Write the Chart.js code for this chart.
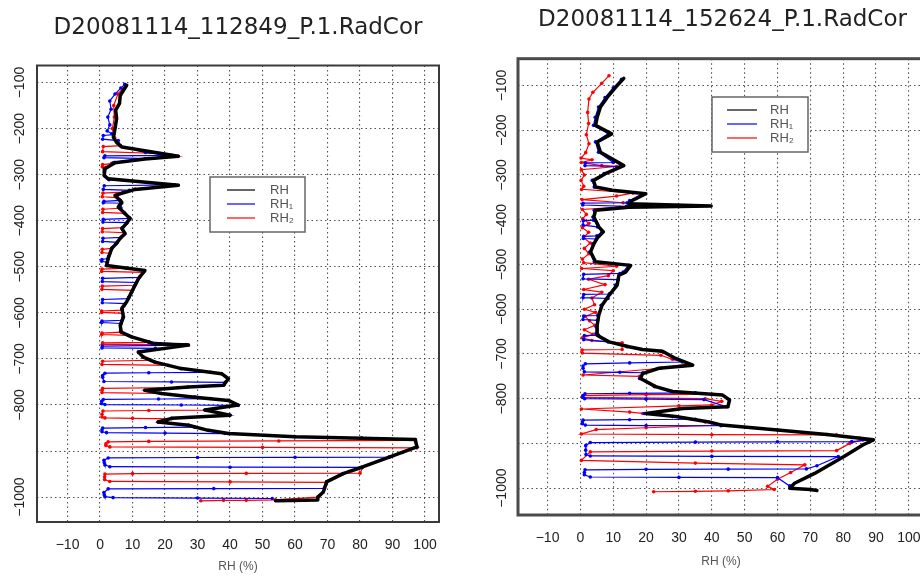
<!DOCTYPE html>
<html>
<head>
<meta charset="utf-8">
<title>RH profiles</title>
<script src="https://cdn.jsdelivr.net/npm/chart.js@4.4.0/dist/chart.umd.min.js"></script>
<style>
  html, body { margin: 0; padding: 0; background: #fff; }
  #wrap { position: relative; width: 920px; height: 576px; overflow: hidden; }
  .panel { position: absolute; top: 0; height: 576px; }
  #left { left: 0; width: 460px; }
  #right { left: 460px; width: 468px; }
</style>
</head>
<body>
<div id="wrap">
  <div class="panel" id="left"><canvas id="leftChart" width="460" height="576"></canvas></div>
  <div class="panel" id="right"><canvas id="rightChart" width="468" height="576"></canvas></div>
</div>
<script>
// ---- axis ticks ----
const rhTicks = [-10, 0, 10, 20, 30, 40, 50, 60, 70, 80, 90, 100];
const rhTickLabels = ['\u221210', '0', '10', '20', '30', '40', '50', '60', '70', '80', '90', '100'];
const presTicks = [-100, -200, -300, -400, -500, -600, -700, -800, -900, -1000];
const presTickLabels = ['\u2212100', '\u2212200', '\u2212300', '\u2212400', '\u2212500', '\u2212600', '\u2212700', '\u2212800', '', '\u22121000'];

const seriesLabels = ['RH', 'RH\u2081', 'RH\u2082'];
const titles = ['D20081114_112849_P.1.RadCor', 'D20081114_152624_P.1.RadCor'];

// ---- left sounding: [RH %, pressure hPa] ----
const leftRh = [
  [8.2,106],[6.2,128],[6.0,145],[4.8,160],[5.1,178],[4.6,200],[4.1,219],[5.1,230],[6.7,240],
  [24.1,260],[13.8,266],[4.6,274],[1.5,287],[1.3,302],[2.5,309],[24.1,323],[10.8,332],[4.6,345],
  [6.7,360],[5.6,370],[7.2,381],[9.2,395],[8.2,405],[6.7,417],[7.7,428],[6.2,438],[5.1,449],
  [3.6,460],[2.5,482],[2.0,497],[13.8,508],[11.8,526],[9.7,555],[8.2,576],[6.7,590],[7.2,609],
  [6.2,627],[6.5,642],[9.7,652],[14.9,663],[16.4,667],[27.2,670],[11.8,685],[13.3,696],[16.9,707],
  [25.1,721],[37.4,732],[39.5,743],[38.0,757],[27.2,761],[13.8,768],[18.9,775],[29.2,783],[39.5,790],
  [42.5,800],[32.3,811],[40.0,822],[22.0,829],[17.9,837],[27.2,844],[33.3,855],[39.5,862],[60.0,869],
  [80.5,872],[97.0,875],[97.5,891],[89.0,913],[81.0,934],[74.8,949],[69.7,967],[68.7,989],[67.0,1000],
  [67.0,1006],[54.0,1008]
];
const leftRh1 = [
  [7.6,104],[6.4,112],[4.6,125],[3.0,140],[3.4,158],[2.4,175],[3.0,192],[2.2,205],[3.6,211],
  [4.2,213],[1.0,215],[0.8,223],[5.6,226],[6.2,237],[14.0,252],
  [22.0,258],[1.5,259],[1.2,263],[15.0,265],[4.0,274],[1.5,288],[1.4,302],[2.8,311],
  [23.0,322],[1.3,324],[1.0,332],[9.0,334],[5.0,345],[6.1,355],
  [6.2,356],[1.2,358],[1.0,361],[6.6,362],[6.4,372],[7.4,383],[9.0,393],
  [9.2,395],[1.0,397],[0.9,403],[8.3,404],[6.8,416],[7.6,428],
  [6.5,436],[0.9,438],[0.8,445],[5.2,447],[3.6,460],[2.6,478],
  [2.5,482],[0.6,484],[0.5,488],[2.2,490],[2.0,497],[13.6,508],[12.4,520],
  [12.1,523],[0.8,525],[0.7,532],[11.2,534],[9.7,555],[8.9,566],
  [8.7,569],[0.8,571],[0.7,578],[7.8,580],[6.8,592],[7.2,609],
  [6.8,616],[0.6,618],[0.5,621],[6.4,623],[6.4,640],[9.6,652],[15.0,663],[26.5,669],
  [26.0,670],[0.7,672],[0.6,676],[17.0,677],[11.9,686],[13.3,696],[16.9,707],[24.8,721],
  [34.0,729],[15.0,730],[1.5,731],[0.8,736],[0.8,740],[1.2,749],[22.0,750],[38.5,751],
  [38.0,757],[27.0,761],[13.8,768],[18.9,775],[29.2,783],
  [34.0,786],[18.0,787],[1.0,788],[0.5,792],[0.5,797],[1.5,799],[25.0,800],[42.5,801],
  [32.3,811],[40.0,822],[22.0,829],[17.9,837],[27.2,844],
  [29.0,848],[14.0,849],[0.8,850],[0.6,854],[0.6,858],[2.0,860],[20.0,861],[38.4,862],
  [60.0,869],[80.5,872],[97.0,875],[97.5,891],[93.0,903],
  [89.0,913],[60.0,913.5],[30.0,914],[2.5,915],[1.2,920],[1.3,925],[1.5,930],[3.0,934],[40.0,935],[80.5,935.5],
  [74.8,949],[69.7,967],
  [69.0,981],[35.0,981.5],[2.5,982],[1.2,990],[1.3,995],[1.5,999],[4.0,1001],[30.0,1002],[53.0,1003]
];
const leftRh2 = [
  [7.8,106],[5.5,125],[4.2,150],[4.4,175],[3.8,200],[4.5,220],[5.5,232],
  [6.2,237],[1.0,239],[0.8,250],[18.0,254],[24.0,260],[13.8,265],[4.5,273],
  [3.5,276],[0.8,278],[0.7,283],[1.8,284],[1.3,302],[2.5,309],[24.0,323],[10.8,331],
  [7.0,338],[0.9,340],[0.7,348],[5.3,350],[6.3,358],[5.8,370],
  [6.0,373],[0.9,375],[0.8,382],[7.6,384],[9.2,395],[8.3,405],
  [6.9,415],[0.8,417],[0.7,424],[7.5,426],[6.2,438],[5.1,449],
  [3.6,460],[0.7,462],[0.6,469],[3.0,471],[2.5,482],[2.0,497],
  [8.0,503],[0.6,505],[0.5,510],[13.4,512],[11.8,526],[10.9,538],
  [10.7,540],[0.7,542],[0.6,549],[10.0,551],[9.0,565],[7.4,585],
  [6.8,594],[0.5,596],[0.5,599],[7.0,601],[6.4,625],[6.3,640],
  [6.5,642],[0.6,644],[0.5,647],[8.7,649],[14.9,663],
  [15.2,664],[0.8,665],[0.7,668],[27.2,670],[11.8,685],[13.3,696],
  [15.6,703],[0.8,705],[0.6,712],[21.0,714],[25.1,721],[37.4,732],[39.5,743],[38.0,757],
  [24.0,762],[0.8,764],[0.6,768],[0.6,773],[18.9,775],[29.2,783],[39.5,790],[42.5,800],
  [32.3,811],[15.0,812],[0.9,813],[0.6,820],[0.6,826],[1.5,828],[10.0,829],[22.0,830],
  [17.9,837],[27.2,844],[33.3,855],[39.5,862],[60.0,869],[80.5,872],
  [97.0,877],[55.0,878],[15.0,879],[2.5,880],[1.8,884],[1.8,888],[3.0,891],[50.0,892],[97.5,893],
  [89.0,913],[81.0,934],
  [80.0,948],[45.0,948.5],[10.0,949],[1.5,950],[1.4,956],[1.4,962],[3.0,966],[40.0,967],[69.7,968],
  [68.7,989],[67.0,1000],[54.0,1006],[45.0,1007],[38.0,1007],[31.0,1008]
];

// ---- right sounding: [RH %, pressure hPa] ----
const rightRh = [
  [13.2,84],[10.7,104],[8.2,126],[6.1,148],[5.1,171],[4.6,189],[9.5,208],[5.1,226],[6.1,249],
  [13.2,279],[7.6,297],[4.0,312],[4.6,327],[9.7,334],[19.9,342],[15.8,357],[14.7,364],[39.8,369],
  [14.7,372],[4.6,379],[4.1,394],[5.6,416],[7.0,427],[5.1,441],[4.1,454],[3.1,472],[4.6,494],
  [15.3,502],[13.8,517],[11.7,524],[11.2,546],[8.7,569],[6.6,591],[5.6,613],[5.1,636],[5.1,658],
  [8.7,673],[14.8,684],[18.9,690],[25.0,694],[29.0,710],[34.2,725],[23.9,732],[18.9,744],[18.3,755],
  [22.9,773],[28.0,784],[43.3,792],[45.4,803],[44.9,818],[31.1,822],[19.9,833],[29.0,840],[39.2,852],
  [43.0,859],[60.0,870],[75.0,880],[89.2,892],[86.1,903],[80.5,928],[71.3,967],[65.2,989],[63.7,1000],
  [70.0,1003],[72.0,1005]
];
const rightRh1 = [
  [12.5,86],[10.0,105],[7.5,127],[5.5,148],[4.5,171],[4.0,189],[8.5,207],[4.6,226],[5.5,249],
  [10.0,272],[1.5,273],[1.4,279],[12.0,281],[7.2,297],[3.6,312],[4.2,327],[9.2,334],[19.0,342],[15.0,357],
  [14.2,362],[0.8,363],[0.7,367],[14.0,370],[4.2,379],[3.8,394],
  [4.0,401],[0.9,402],[0.8,412],[5.2,416],[6.6,427],
  [5.0,436],[1.0,437],[0.9,442],[4.9,443],[3.8,454],[2.8,472],[4.2,494],[14.6,502],[13.0,517],
  [12.0,520],[1.0,522],[0.8,532],[11.5,534],[10.7,546],[9.0,565],
  [8.8,566],[1.0,567],[0.8,574],[8.4,576],[6.3,591],[5.4,613],
  [5.3,614],[1.0,615],[0.8,623],[5.2,625],[4.8,640],[4.8,654],
  [5.5,658],[1.2,659],[1.0,668],[8.4,673],[14.2,684],[18.5,690],[24.5,694],[28.5,710],
  [31.0,718],[15.0,720],[1.5,722],[0.8,727],[0.8,732],[1.2,740],[12.0,741],[19.0,742],
  [18.0,755],[22.5,773],[27.8,784],
  [35.0,787],[15.0,788],[1.4,789],[0.8,793],[0.8,797],[1.3,800],[20.0,801],[37.6,802],
  [44.5,818],[31.0,822],[19.5,833],
  [35.0,846],[15.0,847],[0.8,848],[0.6,852],[0.6,856],[1.5,859],[20.0,860],[42.8,860.5],
  [60.0,870],[75.0,880],[88.5,892],
  [82.6,896],[60.0,896.5],[35.0,897],[3.0,898],[1.6,905],[1.6,915],[1.7,925],[3.0,928],[40.0,929],[78.5,929.5],
  [72.0,950],
  [68.8,957],[45.0,957.5],[20.0,958],[1.4,959],[1.2,965],[1.2,970],[3.0,975],[30.0,976],[60.0,976.5],
  [63.7,995]
];
const rightRh2 = [
  [8.7,78],[6.5,95],[3.8,115],[2.6,130],[2.2,160],[2.5,185],[1.8,210],[2.6,230],[1.6,250],
  [0.2,262],[3.5,266],[0.3,272],[6.5,279],[11.0,281],[0.3,288],[1.2,300],[0.2,312],[1.0,325],
  [0.4,332],[16.0,340],[11.0,347],[0.5,355],[13.0,362],[28.0,368],[12.0,372],[0.6,377],[1.8,388],
  [0.7,398],[2.6,408],[0.6,418],[2.5,428],[1.0,440],[3.0,452],[1.2,464],[2.6,476],[0.6,488],
  [1.0,496],[11.0,504],[0.4,509],[10.0,514],[8.5,525],[2.5,533],[7.5,545],[1.0,556],[6.5,562],
  [3.5,575],[4.3,590],[1.2,600],[4.6,607],[1.4,616],[2.8,626],[4.4,636],[1.2,646],[3.8,656],
  [0.6,664],[3.5,670],[12.7,675],
  [12.7,690],[0.5,691],[0.6,698],[24.5,703],[28.0,712],[33.0,722],
  [24.5,732],[0.8,747],[18.0,750],[18.3,755],[22.9,773],[28.0,784],
  [40.0,790],[20.0,791],[0.8,793],[0.6,797],[38.0,800],[43.0,806],[40.0,814],
  [30.0,816],[0.3,823],[15.0,830],[19.0,833],[28.0,840],[38.0,852],[42.8,859],
  [20.0,865],[4.8,869],[0.3,879],[40.0,880.5],[78.0,881],[85.0,888],[86.0,892],[82.0,900],[78.0,916],
  [40.0,917],[3.0,919],[0.3,938],[35.0,944],[68.3,948],
  [64.0,965],[60.0,980],[57.0,996],[59.0,1003],[45.0,1006],[35.0,1007],[22.3,1008]
];

Chart.defaults.font.family = '"Liberation Sans", Arial, sans-serif';

// pressure is drawn as a negative value so that the axis reads -100 at the top
const toPoints = pairs => pairs.map(([rh, p]) => ({ x: rh, y: -p }));

// plot frame on all four sides
const frameBox = {
  id: 'frameBox',
  afterDatasetsDraw(chart, args, opts) {
    const { ctx, chartArea: a } = chart;
    ctx.save();
    ctx.strokeStyle = opts.color;
    ctx.lineWidth = opts.width;
    ctx.strokeRect(a.left, a.top, a.right - a.left, a.bottom - a.top);
    ctx.restore();
  }
};

// rotated pressure labels, placed at the y scale's tick pixels
const yLabels = {
  id: 'yLabels',
  afterDraw(chart, args, opts) {
    const { ctx, chartArea, scales } = chart;
    const y = scales.y;
    ctx.save();
    ctx.font = '14px "Liberation Sans", Arial, sans-serif';
    ctx.fillStyle = '#222';
    ctx.textAlign = 'center';
    ctx.textBaseline = 'middle';
    y.ticks.forEach((t, i) => {
      const label = presTickLabels[i];
      if (!label) return;
      ctx.save();
      ctx.translate(chartArea.left - opts.offset, y.getPixelForValue(t.value));
      ctx.rotate(-Math.PI / 2);
      ctx.fillText(label, 0, 0);
      ctx.restore();
    });
    ctx.restore();
  }
};

// boxed legend inside the plot
const boxLegend = {
  id: 'boxLegend',
  afterDraw(chart, args, o) {
    const { ctx } = chart;
    ctx.save();
    ctx.fillStyle = '#fff';
    ctx.fillRect(o.x, o.y, o.w, o.h);
    ctx.strokeStyle = '#666';
    ctx.lineWidth = 1.5;
    ctx.strokeRect(o.x, o.y, o.w, o.h);
    ctx.font = '13px "Liberation Sans", Arial, sans-serif';
    ctx.textBaseline = 'middle';
    chart.data.datasets.forEach((ds, i) => {
      const ly = o.y + o.firstRow + i * o.rowGap;
      ctx.strokeStyle = ds.borderColor;
      ctx.lineWidth = 1.2;
      ctx.beginPath();
      ctx.moveTo(o.x + o.lineStart, ly);
      ctx.lineTo(o.x + o.lineEnd, ly);
      ctx.stroke();
      ctx.fillStyle = '#555';
      ctx.fillText(ds.label, o.x + o.textX, ly);
    });
    ctx.restore();
  }
};

function makeProfileChart(canvasId, cfg) {
  const gridStyle = {
    color: 'rgba(50,50,50,0.85)', lineWidth: 1.1,
    drawTicks: true, tickLength: 12, tickColor: 'rgba(0,0,0,0)'
  };
  return new Chart(document.getElementById(canvasId), {
    type: 'scatter',
    data: {
      datasets: [
        {
          label: seriesLabels[0], data: toPoints(cfg.rh), showLine: true,
          borderColor: '#000', backgroundColor: '#000', borderWidth: 3.5,
          borderJoinStyle: 'round', borderCapStyle: 'round', pointRadius: 0
        },
        {
          label: seriesLabels[1], data: toPoints(cfg.rh1), showLine: true,
          borderColor: '#0000ff', backgroundColor: '#0000ff', borderWidth: 1.2,
          pointRadius: 1.8, pointBorderWidth: 0
        },
        {
          label: seriesLabels[2], data: toPoints(cfg.rh2), showLine: true,
          borderColor: '#ff0000', backgroundColor: '#ff0000', borderWidth: 1.2,
          pointRadius: 1.8, pointBorderWidth: 0
        }
      ]
    },
    options: {
      responsive: false,
      animation: false,
      devicePixelRatio: 1,
      layout: { padding: cfg.padding },
      plugins: {
        legend: { display: false },
        tooltip: { enabled: false },
        title: {
          display: true,
          text: cfg.title,
          color: '#222',
          font: { family: '"DejaVu Sans", sans-serif', size: 23, weight: 'normal', lineHeight: 1.2 },
          padding: cfg.titlePadding
        },
        frameBox: { color: cfg.frameColor, width: cfg.frameWidth },
        yLabels: { offset: cfg.yLabelOffset },
        boxLegend: cfg.legend
      },
      scales: {
        x: {
          type: 'linear',
          min: cfg.xMin,
          max: cfg.xMax,
          afterBuildTicks: scale => { scale.ticks = rhTicks.map(v => ({ value: v })); },
          grid: gridStyle,
          border: { display: false, dash: [1.5, 3] },
          ticks: {
            color: '#222',
            padding: 3,
            font: { size: 14 },
            callback: (value, index) => rhTickLabels[index]
          },
          title: {
            display: true,
            text: 'RH (%)',
            color: '#555',
            font: { size: 12 },
            padding: { top: cfg.xTitleTop, bottom: 0 }
          }
        },
        y: {
          type: 'linear',
          min: cfg.yMin,
          max: cfg.yMax,
          afterBuildTicks: scale => { scale.ticks = presTicks.map(v => ({ value: v })); },
          grid: { color: 'rgba(50,50,50,0.85)', lineWidth: 1.1, drawTicks: false },
          border: { display: false, dash: [1.5, 3] },
          ticks: { display: false }
        }
      }
    },
    plugins: [frameBox, yLabels, boxLegend]
  });
}

makeProfileChart('leftChart', {
  title: titles[0],
  rh: leftRh, rh1: leftRh1, rh2: leftRh2,
  xMin: -19.4, xMax: 104.3, yMin: -1054, yMax: -63,
  padding: { left: 37, right: 21, top: 0, bottom: 1.8 },
  titlePadding: { top: 14.5, bottom: 23.4 },
  xTitleTop: 3,
  frameColor: '#3a3a3a',
  frameWidth: 2,
  yLabelOffset: 17,
  legend: { x: 210, y: 177, w: 95, h: 55, firstRow: 13, rowGap: 14, lineStart: 17, lineEnd: 45, textX: 60 }
});

makeProfileChart('rightChart', {
  title: titles[1],
  rh: rightRh, rh1: rightRh1, rh2: rightRh2,
  xMin: -19, xMax: 104.6, yMin: -1060, yMax: -40,
  padding: { left: 58, right: 1, top: 0, bottom: 6.8 },
  titlePadding: { top: 6.3, bottom: 24.8 },
  xTitleTop: 5,
  frameColor: '#4a4a4a',
  frameWidth: 3,
  yLabelOffset: 16,
  legend: { x: 252, y: 97, w: 96, h: 55, firstRow: 13, rowGap: 14, lineStart: 15, lineEnd: 45, textX: 58 }
});
</script>
</body>
</html>
